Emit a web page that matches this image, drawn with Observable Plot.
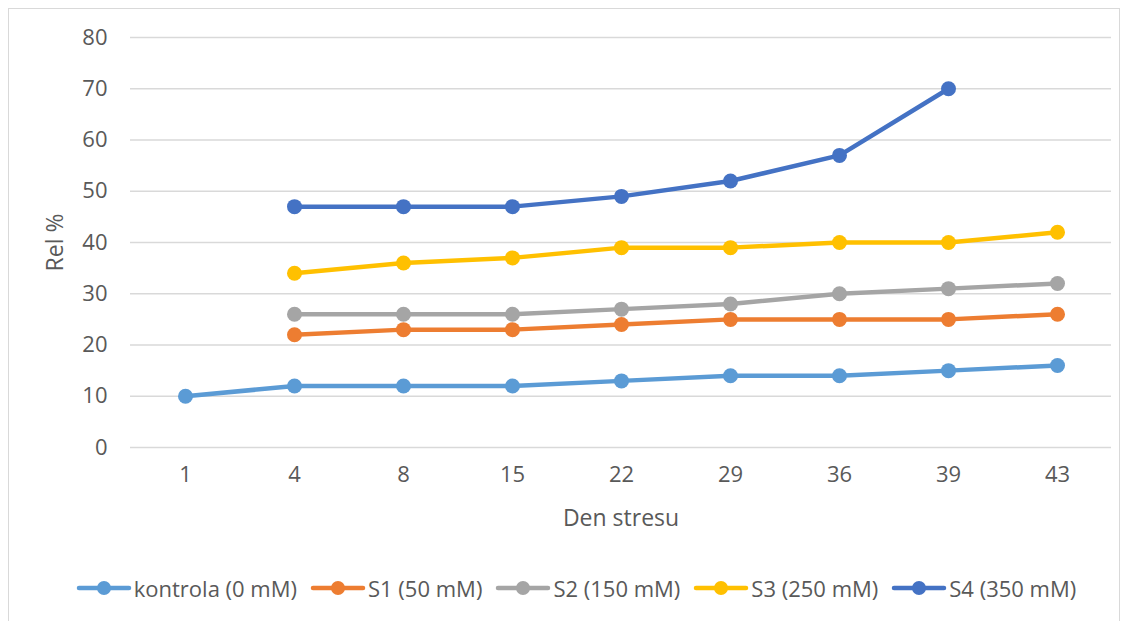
<!DOCTYPE html>
<html>
<head>
<meta charset="utf-8">
<script src="https://cdn.jsdelivr.net/npm/d3@7"></script>
<script src="https://cdn.jsdelivr.net/npm/@observablehq/plot@0.6"></script>
<style>
  html, body { margin: 0; padding: 0; background: #fff; }
  body { width: 1132px; height: 621px; overflow: hidden; position: relative; font-family: "Open Sans", sans-serif; }
  #frame { position: absolute; left: 8px; top: 8px; width: 1112px; height: 620px; border: 1px solid #d9d9d9; box-sizing: border-box; pointer-events: none; }
  #chart { position: absolute; left: 0; top: 0; }
  #legend { position: absolute; left: 10px; top: 573px; width: 1132px; display: flex; justify-content: center; gap: 13px; font-size: 22px; color: #595959; }
  .item { display: flex; align-items: center; gap: 2px; white-space: nowrap; }
</style>
</head>
<body>
<div id="frame"></div>
<div id="chart"></div>
<div id="legend"></div>
<script>
// Days of stress (category axis) and Rel % per treatment
const days = ["1", "4", "8", "15", "22", "29", "36", "39", "43"];
const seriesNames = ["kontrola (0 mM)", "S1 (50 mM)", "S2 (150 mM)", "S3 (250 mM)", "S4 (350 mM)"];
const seriesColors = ["#5B9BD5", "#ED7D31", "#A5A5A5", "#FFC000", "#4472C4"];
const kontrola = [10, 12, 12, 12, 13, 14, 14, 15, 16];
const s1 = [null, 22, 23, 23, 24, 25, 25, 25, 26];
const s2 = [null, 26, 26, 26, 27, 28, 30, 31, 32];
const s3 = [null, 34, 36, 37, 39, 39, 40, 40, 42];
const s4 = [null, 47, 47, 47, 49, 52, 57, 70, null];
const yTicks = [0, 10, 20, 30, 40, 50, 60, 70, 80];

const allValues = [kontrola, s1, s2, s3, s4];
const rows = [];
allValues.forEach((vals, i) => {
  vals.forEach((v, j) => {
    if (v != null) rows.push({series: seriesNames[i], day: days[j], value: v});
  });
});

const textColor = "#595959";

const chart = Plot.plot({
  width: 1132,
  height: 540,
  marginLeft: 130,
  marginRight: 21,
  marginTop: 37,
  marginBottom: 93,
  style: {fontFamily: "Open Sans, sans-serif", fontSize: "22px", color: textColor, background: "transparent"},
  x: {type: "point", domain: days, padding: 0.5},
  y: {domain: [0, 80]},
  color: {domain: seriesNames, range: seriesColors},
  marks: [
    Plot.gridY(yTicks, {stroke: "#d9d9d9", strokeOpacity: 1, strokeWidth: 1.5}),
    Plot.axisY(yTicks, {tickSize: 0, tickPadding: 23, label: null, fill: textColor, fontSize: 22}),
    Plot.axisX(days, {tickSize: 0, tickPadding: 19, label: null, fill: textColor, fontSize: 22}),
    Plot.text(["Den stresu"], {frameAnchor: "bottom", dy: 71, fill: textColor, fontSize: 23, lineAnchor: "middle"}),
    Plot.text(["Rel %"], {frameAnchor: "left", dx: -75, rotate: -90, textAnchor: "middle", fill: textColor, fontSize: 23, lineAnchor: "middle"}),
    Plot.line(rows, {x: "day", y: "value", z: "series", stroke: "series", strokeWidth: 4.5, strokeLinecap: "round", strokeLinejoin: "round"}),
    Plot.dot(rows, {x: "day", y: "value", fill: "series", r: 7.5, stroke: null})
  ]
});
document.getElementById("chart").appendChild(chart);

// Legend: line sample with a marker, followed by the series name
const legend = d3.select("#legend");
seriesNames.forEach((name, i) => {
  const item = legend.append("div").attr("class", "item");
  const svg = item.append("svg").attr("width", 56).attr("height", 16);
  svg.append("line").attr("x1", 3).attr("x2", 53).attr("y1", 8).attr("y2", 8)
    .attr("stroke", seriesColors[i]).attr("stroke-width", 4.5).attr("stroke-linecap", "round");
  svg.append("circle").attr("cx", 28).attr("cy", 8).attr("r", 7).attr("fill", seriesColors[i]);
  item.append("span").text(name);
});
</script>
</body>
</html>
